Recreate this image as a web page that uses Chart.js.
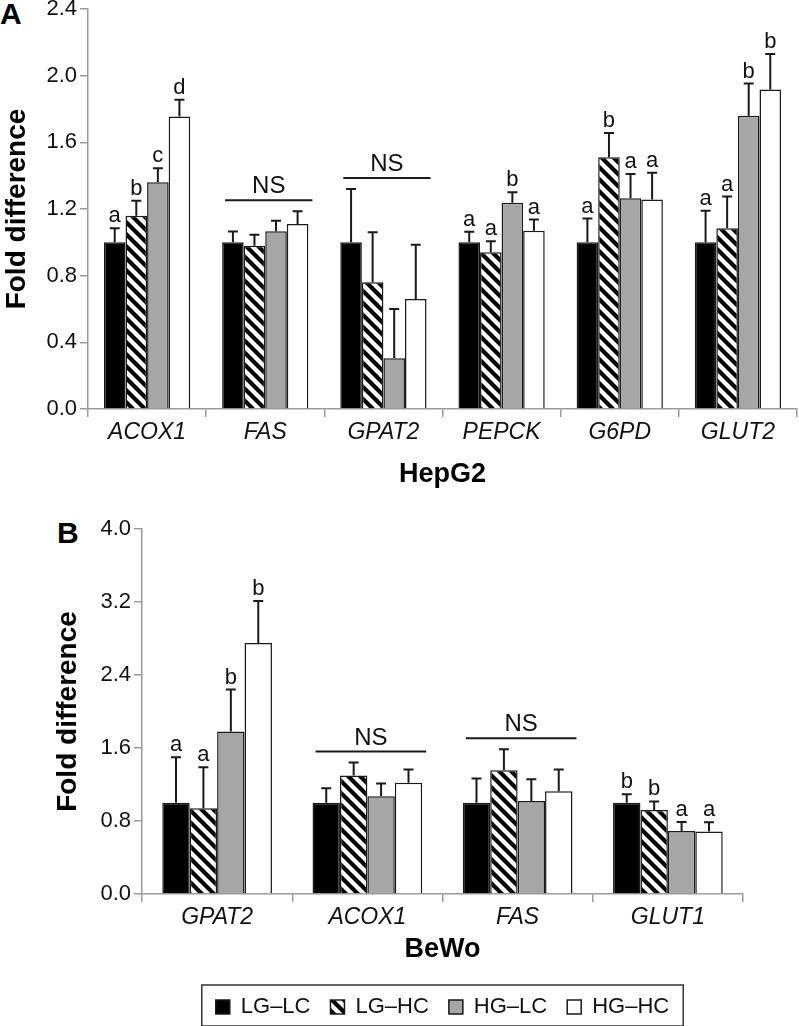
<!DOCTYPE html>
<html>
<head>
<meta charset="utf-8">
<script src="https://cdn.jsdelivr.net/npm/chart.js@4.4.1/dist/chart.umd.min.js"></script>
<style>
  html, body { margin: 0; padding: 0; background: #fff; overflow: hidden; }
  body { width: 799px; height: 1026px; position: relative; font-family: "Liberation Sans", Arial, sans-serif; }
  canvas { position: absolute; left: 0; }
  .panel { position: absolute; font-weight: bold; line-height: 1; color: #000; }
</style>
</head>
<body>
<div class="panel" style="left:0px;top:-1px;font-size:30px;">A</div>
<div class="panel" style="left:57px;top:518px;font-size:30px;">B</div>
<canvas id="chartA" width="799" height="500" style="top:0px;width:799px;height:500px;"></canvas>
<canvas id="chartB" width="799" height="528" style="top:500px;width:799px;height:528px;"></canvas>
<script>
// ---- panel A: HepG2 ----
const genesA = ['ACOX1', 'FAS', 'GPAT2', 'PEPCK', 'G6PD', 'GLUT2'];
const yTicksA = ['0.0', '0.4', '0.8', '1.2', '1.6', '2.0', '2.4'];
const lglcA = [1.0, 1.0, 1.0, 1.0, 1.0, 1.0];
const lghcA = [1.16, 0.98, 0.76, 0.94, 1.51, 1.085];
const hglcA = [1.36, 1.067, 0.305, 1.237, 1.265, 1.76];
const hghcA = [1.755, 1.11, 0.66, 1.069, 1.257, 1.917];
const lglcErrA = [0.085, 0.065, 0.32, 0.063, 0.143, 0.19];
const lghcErrA = [0.09, 0.065, 0.30, 0.066, 0.146, 0.19];
const hglcErrA = [0.085, 0.063, 0.295, 0.063, 0.145, 0.193];
const hghcErrA = [0.10, 0.077, 0.326, 0.068, 0.161, 0.213];
const marksA = [['a', 'b', 'c', 'd'], 'NS', 'NS', ['a', 'a', 'b', 'a'], ['a', 'b', 'a', 'a'], ['a', 'a', 'b', 'b']];

// ---- panel B: BeWo ----
const genesB = ['GPAT2', 'ACOX1', 'FAS', 'GLUT1'];
const yTicksB = ['0.0', '0.8', '1.6', '2.4', '3.2', '4.0'];
const lglcB = [1.0, 1.0, 1.0, 1.0];
const lghcB = [0.94, 1.30, 1.357, 0.92];
const hglcB = [1.78, 1.07, 1.018, 0.69];
const hghcB = [2.75, 1.22, 1.125, 0.686];
const lglcErrB = [0.50, 0.16, 0.265, 0.092];
const lghcErrB = [0.45, 0.14, 0.228, 0.094];
const hglcErrB = [0.46, 0.14, 0.24, 0.10];
const hghcErrB = [0.46, 0.144, 0.239, 0.10];
const marksB = [['a', 'a', 'b', 'b'], 'NS', 'NS', ['b', 'b', 'a', 'a']];

const groups = ['LG\u2013LC', 'LG\u2013HC', 'HG\u2013LC', 'HG\u2013HC'];

Chart.defaults.font.family = '"Liberation Sans", Arial, sans-serif';
Chart.defaults.color = '#111';

// diagonal hatch like "\\"
function makeHatch() {
    const c = document.createElement('canvas');
    c.width = 12; c.height = 12;
    const g = c.getContext('2d');
    g.fillStyle = '#fff';
    g.fillRect(0, 0, 12, 12);
    g.strokeStyle = '#000';
    g.lineWidth = 4.2;
    g.beginPath();
    g.moveTo(-6, -6); g.lineTo(18, 18);
    g.moveTo(-6, 6); g.lineTo(6, 18);
    g.moveTo(6, -6); g.lineTo(18, 6);
    g.stroke();
    return g.createPattern(c, 'repeat');
}
const hatch = makeHatch();
const fills = ['#000000', hatch, '#a6a6a6', '#ffffff'];

function makeDatasets(series) {
    return series.map((d, i) => ({
        label: groups[i],
        data: d,
        backgroundColor: fills[i],
        borderColor: '#1a1a1a',
        borderWidth: 1.5,
        borderSkipped: 'bottom',
        categoryPercentage: 0.73,
        barPercentage: 1.0,
    }));
}

// error bars, significance letters and NS lines
const annot = {
    id: 'annot',
    afterDatasetsDraw(chart, args, opts) {
        const { ctx } = chart;
        const y = chart.scales.y;
        const tops = [];
        ctx.save();
        ctx.strokeStyle = '#1a1a1a';
        ctx.lineWidth = 2;
        chart.data.datasets.forEach((ds, i) => {
            const meta = chart.getDatasetMeta(i);
            meta.data.forEach((bar, j) => {
                const top = y.getPixelForValue(ds.data[j] + opts.errors[i][j]);
                (tops[j] = tops[j] || [])[i] = { x: bar.x, w: bar.width, top };
                ctx.beginPath();
                ctx.moveTo(bar.x, bar.y);
                ctx.lineTo(bar.x, top);
                ctx.moveTo(bar.x - 5, top);
                ctx.lineTo(bar.x + 5, top);
                ctx.stroke();
            });
        });
        ctx.fillStyle = '#111';
        ctx.textAlign = 'center';
        ctx.textBaseline = 'alphabetic';
        opts.marks.forEach((m, j) => {
            const col = tops[j];
            if (m === 'NS') {
                const lineY = Math.min(...col.map(c => c.top)) - 11;
                const x0 = col[0].x - col[0].w / 2 + 3;
                const x1 = col[3].x + col[3].w / 2 + 4;
                ctx.lineWidth = 2;
                ctx.beginPath();
                ctx.moveTo(x0, lineY);
                ctx.lineTo(x1, lineY);
                ctx.stroke();
                ctx.font = '24px "Liberation Sans", Arial, sans-serif';
                ctx.fillText('NS', (x0 + x1) / 2, lineY - 7);
            } else {
                ctx.font = '22px "Liberation Sans", Arial, sans-serif';
                m.forEach((letter, i) => ctx.fillText(letter, col[i].x, col[i].top - 6));
            }
        });
        ctx.restore();
    }
};

// frame around the legend
const legendBox = {
    id: 'legendBox',
    afterDraw(chart) {
        const lg = chart.legend;
        if (!lg || !lg.legendHitBoxes || !lg.legendHitBoxes.length) return;
        const hb = lg.legendHitBoxes;
        const left = Math.min(...hb.map(b => b.left)) - 14;
        const right = Math.max(...hb.map(b => b.left + b.width)) + 14;
        const mid = hb[0].top + hb[0].height / 2;
        const ctx = chart.ctx;
        ctx.save();
        ctx.strokeStyle = '#333';
        ctx.lineWidth = 1.5;
        ctx.strokeRect(left, mid - 22, right - left, 41);
        ctx.restore();
    }
};

function axisOpts(opts) {
    const gridCol = '#9a9a9a';
    return {
        x: {
            grid: { drawOnChartArea: false, tickLength: 8, color: gridCol, lineWidth: 1.5 },
            border: { color: gridCol, width: 1.5 },
            ticks: { font: { size: 23, style: 'italic' }, padding: 2, color: '#111' },
            title: {
                display: true, text: opts.xTitle, color: '#000',
                font: { size: 27, weight: 'bold' },
                padding: { top: 0, bottom: opts.xTitlePad }
            },
            afterFit: s => { s.height = opts.xHeight; s.paddingLeft = 0; s.paddingRight = 0; }
        },
        y: {
            min: 0, max: opts.max,
            ticks: {
                stepSize: opts.step, font: { size: 22 }, padding: 3, color: '#111',
                callback: (v, i) => opts.tickLabels[i]
            },
            grid: { drawOnChartArea: false, tickLength: 8, color: gridCol, lineWidth: 1.5 },
            border: { color: gridCol, width: 1.5 },
            title: {
                display: true, text: 'Fold difference', color: '#000',
                font: { size: 28, weight: 'bold' },
                padding: { top: opts.yTitlePad, bottom: 0 }
            },
            afterFit: s => { s.width = opts.yWidth; s.paddingTop = 0; s.paddingBottom = 0; }
        }
    };
}

new Chart(document.getElementById('chartA').getContext('2d'), {
    type: 'bar',
    data: { labels: genesA, datasets: makeDatasets([lglcA, lghcA, hglcA, hghcA]) },
    options: {
        responsive: false,
        animation: false,
        devicePixelRatio: 1,
        layout: { padding: { top: 9, right: 2, left: 0, bottom: 0 } },
        scales: axisOpts({ xTitle: 'HepG2', xTitlePad: 9, xHeight: 91, max: 2.4, step: 0.4, tickLabels: yTicksA, yTitlePad: 0, yWidth: 88 }),
        plugins: {
            legend: { display: false },
            tooltip: { enabled: false },
            annot: { errors: [lglcErrA, lghcErrA, hglcErrA, hghcErrA], marks: marksA }
        }
    },
    plugins: [annot]
});

new Chart(document.getElementById('chartB').getContext('2d'), {
    type: 'bar',
    data: { labels: genesB, datasets: makeDatasets([lglcB, lghcB, hglcB, hghcB]) },
    options: {
        responsive: false,
        animation: false,
        devicePixelRatio: 1,
        layout: { padding: { top: 29, right: 56, left: 0, bottom: 0 } },
        scales: axisOpts({ xTitle: 'BeWo', xTitlePad: 10, xHeight: 82, max: 4.0, step: 0.8, tickLabels: yTicksB, yTitlePad: 51, yWidth: 142 }),
        plugins: {
            legend: {
                position: 'bottom',
                fullSize: false,
                labels: { font: { size: 22 }, boxWidth: 14, boxHeight: 14, padding: 20, color: '#111' }
            },
            tooltip: { enabled: false },
            annot: { errors: [lglcErrB, lghcErrB, hglcErrB, hghcErrB], marks: marksB }
        }
    },
    plugins: [annot, legendBox]
});
</script>
</body>
</html>
